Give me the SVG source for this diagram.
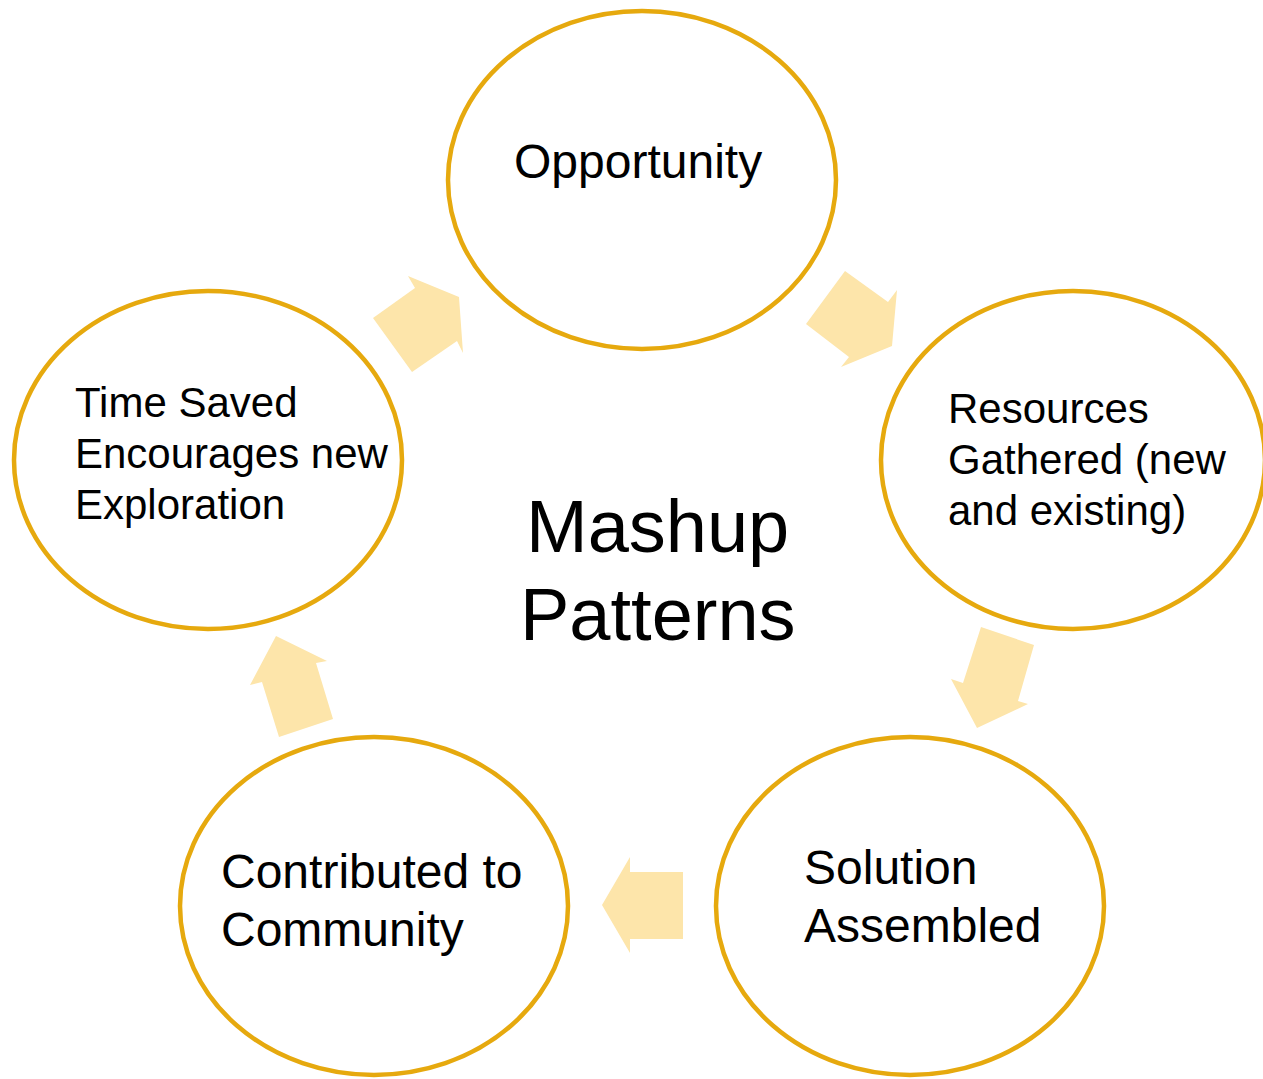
<svg xmlns="http://www.w3.org/2000/svg" width="1263" height="1079" viewBox="0 0 1263 1079">
<style>
.node{fill:#ffffff;stroke:#E6A90E;stroke-width:4.5}
.arr{fill:#FDE5AA;stroke:none}
text{font-family:"Liberation Sans",Arial,sans-serif;fill:#000000}
.t{font-size:42px}
.b{font-size:48px}
.c{font-size:74px}
</style>
<rect width="1263" height="1079" fill="#ffffff"/>
<g id="connectors">
<polygon class="arr" points="408,276 459,297 463,353 457,341 412,372 373,318 415,288"/>
<polygon class="arr" points="845,271 888,302 897,290 892,346 841,367 849,357 806,324"/>
<polygon class="arr" points="981,627 1034,645 1018,701 1028,704 977,728 951,679 963,683"/>
<polygon class="arr" points="683,872 630,872 630,857 602,905 630,953 630,939 683,939"/>
<polygon class="arr" points="276,636 327,661 316,663 333,719 279,737 262,682 250,685"/>
</g>
<g id="opportunity">
<ellipse class="node" cx="642" cy="180" rx="194" ry="169"/>
<text class="b" x="514" y="178">Opportunity</text>
</g>
<g id="resources">
<ellipse class="node" cx="1073" cy="460" rx="192" ry="169"/>
<text class="t" x="948" y="423">Resources</text>
<text class="t" x="948" y="474">Gathered (new</text>
<text class="t" x="948" y="525">and existing)</text>
</g>
<g id="solution">
<ellipse class="node" cx="910" cy="906" rx="194" ry="169"/>
<text class="b" x="804" y="884">Solution</text>
<text class="b" x="804" y="942">Assembled</text>
</g>
<g id="contributed">
<ellipse class="node" cx="374" cy="906" rx="194" ry="169"/>
<text class="b" x="221" y="888">Contributed to</text>
<text class="b" x="221" y="946">Community</text>
</g>
<g id="timesaved">
<ellipse class="node" cx="208" cy="460" rx="194" ry="169"/>
<text class="t" x="75" y="417">Time Saved</text>
<text class="t" x="75" y="468">Encourages new</text>
<text class="t" x="75" y="519">Exploration</text>
</g>
<g id="center">
<text class="c" x="526" y="552">Mashup</text>
<text class="c" x="520" y="640">Patterns</text>
</g>
</svg>
